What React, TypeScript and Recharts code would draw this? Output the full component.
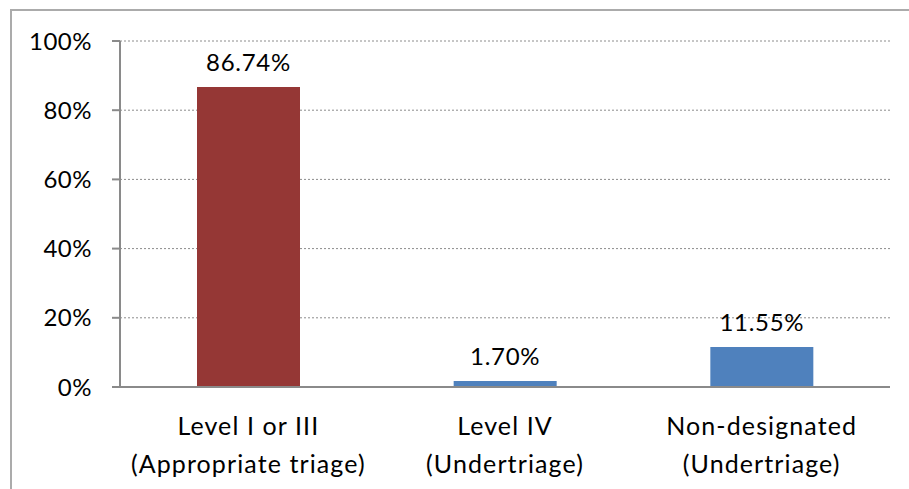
import { BarChart, Bar, XAxis, YAxis, CartesianGrid, LabelList, Cell } from 'recharts';

const categories = ['Level I or III|(Appropriate triage)', 'Level IV|(Undertriage)', 'Non-designated|(Undertriage)'];
const shares = [86.74, 1.7, 11.55];
const barColors = ['#953735', '#4f81bd', '#4f81bd'];
const yTicks = [0, 20, 40, 60, 80, 100];

const data = categories.map((name, i) => ({ name, share: shares[i] }));

const FONT = 'Lato, "Open Sans", sans-serif';

// two-line category label, split on "|"
function CategoryTick({ x, y, payload }: any) {
  const [line1, line2] = String(payload.value).split('|');
  return (
    <text x={x} y={y} textAnchor="middle" fill="#000" fontSize={25} fontFamily={FONT} letterSpacing={1.1}>
      <tspan x={x} dy={48}>{line1}</tspan>
      <tspan x={x} dy={38}>{line2}</tspan>
    </text>
  );
}

export default function App() {
  return (
    <div style={{ position: 'fixed', left: 0, top: 0, width: 909, height: 489, overflow: 'hidden', background: '#fff' }}>
      <div style={{ position: 'absolute', left: 10, top: 9, width: 940, height: 520, border: '2px solid #ababab', boxSizing: 'border-box' }} />
      <div style={{ position: 'absolute', left: 0, top: 0 }}>
        <BarChart width={909} height={489} data={data} barCategoryGap="30%"
          margin={{ top: 41, right: 19, bottom: 0, left: 0 }}>
          <CartesianGrid vertical={false} stroke="#8c8c8c" strokeDasharray="2 2" />
          <XAxis dataKey="name" height={102} tick={<CategoryTick />} tickLine={false} tickSize={0} tickMargin={0}
            axisLine={{ stroke: '#8a8a8a', strokeWidth: 2 }} interval={0} />
          <YAxis width={120} domain={[0, 100]} ticks={yTicks} tickFormatter={(v: number) => `${v}%`}
            tick={{ fill: '#000', fontSize: 24, fontFamily: FONT, letterSpacing: 0.5 }} tickSize={8} tickMargin={20}
            tickLine={{ stroke: '#8a8a8a', strokeWidth: 2 }} axisLine={{ stroke: '#8a8a8a', strokeWidth: 2 }} />
          <Bar dataKey="share" isAnimationActive={false}>
            {data.map((d, i) => <Cell key={d.name} fill={barColors[i]} />)}
            <LabelList dataKey="share" position="top" offset={16} fill="#000" fontSize={24} fontFamily={FONT}
              letterSpacing={0.7} formatter={(v: any) => `${Number(v).toFixed(2)}%`} />
          </Bar>
        </BarChart>
      </div>
    </div>
  );
}
